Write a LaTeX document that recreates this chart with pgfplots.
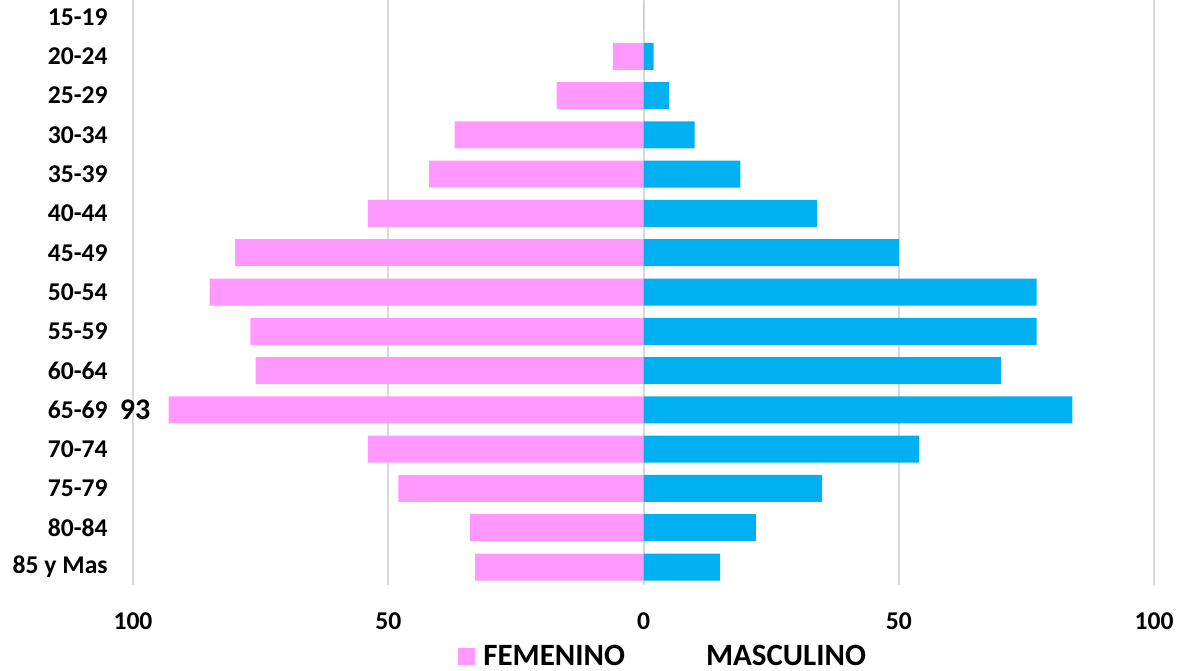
\documentclass[border=0pt]{standalone}
\usepackage{pgfplots}
\pgfplotsset{compat=1.18}
\usepackage{fontspec}
\setmainfont{Carlito}
\definecolor{fempink}{HTML}{FF99FF}
\definecolor{masblue}{HTML}{00B0F0}
\definecolor{gridgray}{HTML}{D9D9D9}
\begin{document}
\begin{tikzpicture}
\useasboundingbox (0,0) rectangle (589.5pt,335pt);
\begin{axis}[
  at={(66.5pt,42.5pt)}, anchor=south west,
  scale only axis, width=510.5pt, height=292.5pt,
  clip=false,
  xmin=-100, xmax=100,
  ymin=-0.433, ymax=14.458,
  y dir=reverse,
  axis line style={draw=none},
  major tick length=0pt,
  xtick={-100,-50,0,50,100},
  xticklabels={100,50,0,50,100},
  ytick={0,...,14},
  yticklabels={15-19,20-24,25-29,30-34,35-39,40-44,45-49,50-54,55-59,60-64,65-69,70-74,75-79,80-84,85 y Mas},
  /pgf/number format/assume math mode=true,
  ticklabel style={font=\fontsize{12.8}{15}\selectfont\bfseries, inner sep=0pt},
  yticklabel style={anchor=east, xshift=-12.5pt},
  xticklabel style={anchor=north, yshift=-13.5pt},
  xmajorgrids, grid style={color=gridgray, line width=1pt},
  legend columns=2,
  legend style={at={(axis description cs:0.3183,-0.122)}, anchor=west, draw=none, fill=none, inner sep=0pt,
    font=\fontsize{15.5}{18}\selectfont\bfseries,
    nodes={inner sep=0pt},
    /tikz/every odd column/.append style={column sep=4pt},
    /tikz/every even column/.append style={column sep=28pt}},
]
\addplot[xbar, bar width=0.687, bar shift=0pt, fill=fempink, draw=none,
  legend image code/.code={\fill[fempink] (0pt,-4.25pt) rectangle (8.5pt,4.25pt);}]
  coordinates {(0,0) (-6,1) (-17,2) (-37,3) (-42,4) (-54,5) (-80,6) (-85,7) (-77,8) (-76,9) (-93,10) (-54,11) (-48,12) (-34,13) (-33,14)};
\addlegendentry{FEMENINO}
\addplot[xbar, bar width=0.687, bar shift=0pt, fill=masblue, draw=none,
  legend image code/.code={\path[fill=none, draw=none] (0pt,-4.25pt) rectangle (8.5pt,4.25pt);}]
  coordinates {(0,0) (2,1) (5,2) (10,3) (19,4) (34,5) (50,6) (77,7) (77,8) (70,9) (84,10) (54,11) (35,12) (22,13) (15,14)};
\addlegendentry{MASCULINO}
\node[anchor=east, inner sep=0pt, xshift=-9pt, font=\fontsize{15}{18}\selectfont\bfseries] at (axis cs:-93,10) {93};
\end{axis}
\end{tikzpicture}
\end{document}
